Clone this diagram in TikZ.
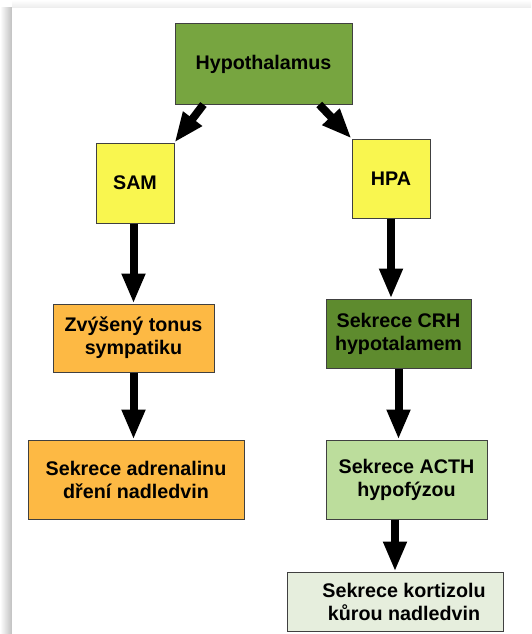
\documentclass[tikz,border=0pt]{standalone}
\usepackage{fontspec}
\setmainfont{Liberation Sans}
\usepackage{tikz}
\usetikzlibrary{arrows.meta}
\definecolor{HypGreen}{HTML}{77A540}
\definecolor{AxisYellow}{HTML}{F9F64F}
\definecolor{SamOrange}{HTML}{FDB944}
\definecolor{CrhGreen}{HTML}{5E8B2E}
\definecolor{ActhGreen}{HTML}{BCDD9C}
\definecolor{KortGreen}{HTML}{E6EEDD}
\definecolor{BoxEdge}{HTML}{404040}

\begin{document}
\begin{tikzpicture}[
  x=1pt, y=-1pt,
  font=\fontsize{19.7}{23}\selectfont\bfseries,
  >={Triangle[width=22pt,length=30pt]},
  % flow box
  fbox/.style={draw=BoxEdge, line width=1pt, inner sep=0pt,
               align=center},
  % thick connector
  flow/.style={->, line width=8pt},
]

% ── Page with shadow ────────────────────────────────────────────────────────
\useasboundingbox (0,0) rectangle (531,634);
\shade[left color=white, right color=gray!50] (0,8) rectangle (12,634);
\shade[top color=white, bottom color=gray!15] (12,0) rectangle (531,8);
\fill[white] (12,8) rectangle (531,634);

%% ── Top ──────────────────────────────────────────────────────────────────
\node[fbox, fill=HypGreen, minimum width=177pt, minimum height=80pt]
  (hyp) at (263.5,64) {Hypothalamus};

%% ── SAM branch ───────────────────────────────────────────────────────────
\node[fbox, fill=AxisYellow, minimum width=78pt, minimum height=80pt]
  (sam) at (135,183) {SAM};
\node[fbox, fill=SamOrange, minimum width=161pt, minimum height=68pt]
  (ton) at (133.5,338) {Zvýšený tonus\\sympatiku};
\node[fbox, fill=SamOrange, minimum width=216pt, minimum height=79pt]
  (adr) at (136,479.5) {Sekrece adrenalinu\\dření nadledvin};

%% ── HPA branch ───────────────────────────────────────────────────────────
\node[fbox, fill=AxisYellow, minimum width=78pt, minimum height=79pt]
  (hpa) at (391,178.5) {HPA};
\node[fbox, fill=CrhGreen, minimum width=145pt, minimum height=69pt]
  (crh) at (398.5,333.5) {Sekrece CRH\\hypotalamem};
\node[fbox, fill=ActhGreen, minimum width=161pt, minimum height=79pt]
  (acth) at (406.5,479.5) {Sekrece ACTH\\hypofýzou};
\node[fbox, fill=KortGreen, minimum width=216pt, minimum height=59pt]
  (kort) at (395,601.5) {\hspace*{18pt}Sekrece kortizolu\\\hspace*{18pt}kůrou nadledvin};

%% ── Connectors ───────────────────────────────────────────────────────────
\draw[flow] (hyp.214) -- (sam.north east);
\draw[flow] (hyp.-36) -- (hpa.north west);
\draw[flow] (sam.south -| ton.north) -- (ton.north);
\draw[flow] (ton.south) -- (ton.south |- adr.north);
\draw[flow] (hpa.south) -- (hpa.south |- crh.north);
\draw[flow] (crh.south) -- (crh.south |- acth.north);
\draw[flow] (acth.south -| kort.north) -- (kort.north);

\end{tikzpicture}
\end{document}
